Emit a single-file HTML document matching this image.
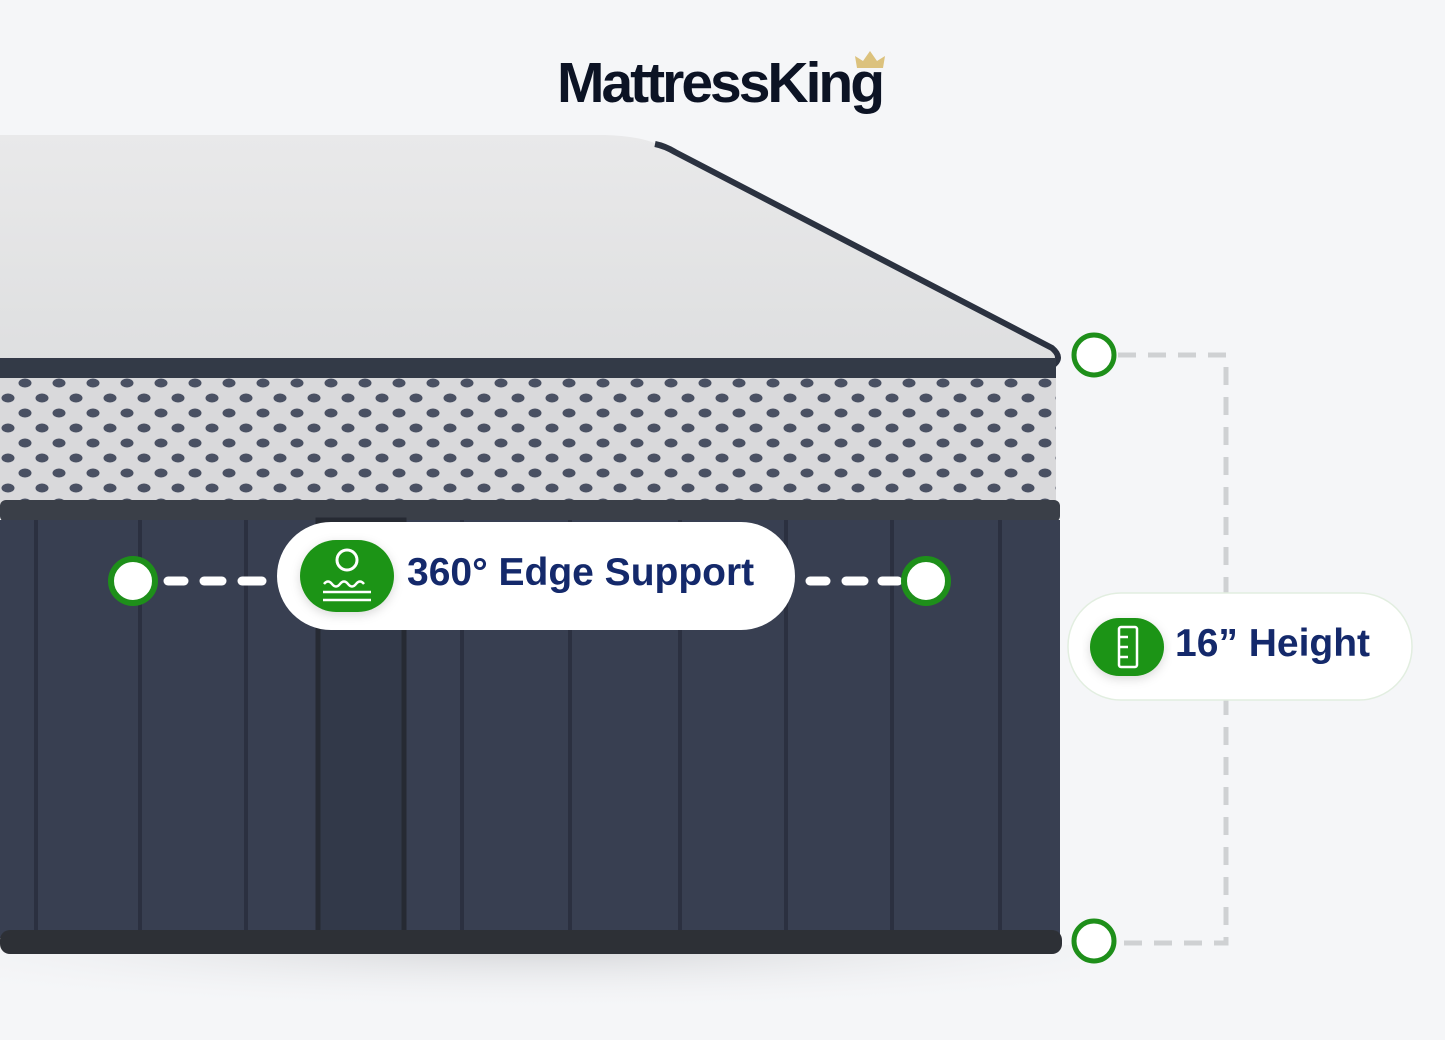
<!DOCTYPE html>
<html><head><meta charset="utf-8"><style>
html,body{margin:0;padding:0;background:#f5f6f8;}
body{width:1445px;height:1040px;position:relative;overflow:hidden;font-family:"Liberation Sans",sans-serif;}
.t{position:absolute;white-space:nowrap;}
</style></head><body>
<svg width="1445" height="1040" style="position:absolute;left:0;top:0">
<defs>
<linearGradient id="top" x1="0" y1="0" x2="0" y2="1"><stop offset="0" stop-color="#e9e9ea"/><stop offset="1" stop-color="#dedfe0"/></linearGradient>
<pattern id="mesh" width="34" height="30" patternUnits="userSpaceOnUse">
<rect width="34" height="30" fill="#d9d9db"/>
<ellipse cx="8" cy="8" rx="6.5" ry="4.5" fill="#4a5163"/>
<ellipse cx="25" cy="23" rx="6.5" ry="4.5" fill="#4a5163"/>
</pattern>
<radialGradient id="sh" cx="0.5" cy="0" r="0.7"><stop offset="0" stop-color="#c9cacd" stop-opacity="0.8"/><stop offset="1" stop-color="#f5f6f8" stop-opacity="0"/></radialGradient>
<filter id="ds" x="-10%" y="-20%" width="120%" height="150%"><feDropShadow dx="0" dy="3" stdDeviation="5" flood-color="#000" flood-opacity="0.15"/></filter>
</defs>
<rect x="0" y="945" width="1080" height="95" fill="url(#sh)"/>
<path d="M0 135 L605 135 Q645 136 665 148 L1050 350 Q1062 358 1052 364 L0 364 Z" fill="url(#top)"/>
<path d="M655 144 Q665 146 675 152 L1052 348 Q1064 358 1052 366" fill="none" stroke="#2b3240" stroke-width="6"/>
<rect x="0" y="358" width="1056" height="20" fill="#333a47"/>
<rect x="0" y="378" width="1056" height="128" fill="url(#mesh)"/>
<rect x="0" y="500" width="1060" height="22" rx="6" fill="#3a3f48"/>
<rect x="0" y="520" width="1060" height="418" fill="#383f51"/>
<g stroke="#2b3040" stroke-width="4">
<line x1="36" y1="520" x2="36" y2="935"/><line x1="140" y1="520" x2="140" y2="935"/>
<line x1="246" y1="520" x2="246" y2="935"/><line x1="462" y1="520" x2="462" y2="935"/>
<line x1="570" y1="520" x2="570" y2="935"/><line x1="680" y1="520" x2="680" y2="935"/>
<line x1="786" y1="520" x2="786" y2="935"/><line x1="892" y1="520" x2="892" y2="935"/>
<line x1="1000" y1="520" x2="1000" y2="935"/>
</g>
<rect x="318" y="520" width="86" height="418" fill="#323949" stroke="#262a33" stroke-width="5"/>
<rect x="0" y="930" width="1062" height="24" rx="10" fill="#2d3036"/>
<g stroke="#fff" stroke-width="9" stroke-linecap="round">
<line x1="168" y1="581" x2="184" y2="581"/><line x1="204" y1="581" x2="222" y2="581"/><line x1="242" y1="581" x2="262" y2="581"/>
<line x1="810" y1="581" x2="826" y2="581"/><line x1="846" y1="581" x2="864" y2="581"/><line x1="882" y1="581" x2="898" y2="581"/>
</g>
<circle cx="133" cy="581" r="22" fill="#fff" stroke="#1e8f1a" stroke-width="6"/>
<circle cx="926" cy="581" r="22" fill="#fff" stroke="#1e8f1a" stroke-width="6"/>
<path d="M1118 355 H1226 V943 H1118" fill="none" stroke="#cfd1d3" stroke-width="5" stroke-dasharray="18 12"/>
<circle cx="1094" cy="355" r="20" fill="#fff" stroke="#1e8f1a" stroke-width="5"/>
<circle cx="1094" cy="941" r="20" fill="#fff" stroke="#1e8f1a" stroke-width="5"/>
<rect x="277" y="522" width="518" height="108" rx="54" fill="#fff"/>
<rect x="300" y="540" width="94" height="72" rx="36" fill="#1f9415" filter="url(#ds)"/>
<circle cx="347" cy="560" r="10" fill="none" stroke="#fff" stroke-width="3"/>
<path d="M324 584 q4 -5 8 0 t8 0 t8 0 t8 0 t8 0" fill="none" stroke="#fff" stroke-width="2.5"/>
<line x1="323" y1="592" x2="371" y2="592" stroke="#fff" stroke-width="2.5"/>
<line x1="323" y1="600" x2="371" y2="600" stroke="#fff" stroke-width="2.5"/>
<rect x="1068" y="593" width="344" height="107" rx="53" fill="#fff" stroke="#e2eee0" stroke-width="1.5"/>
<rect x="1090" y="618" width="74" height="58" rx="29" fill="#1f9415" filter="url(#ds)"/>
<rect x="1119" y="627" width="18" height="40" rx="2" fill="none" stroke="#fff" stroke-width="2.5"/>
<g stroke="#fff" stroke-width="2.5"><line x1="1119" y1="637" x2="1128" y2="637"/><line x1="1119" y1="647" x2="1128" y2="647"/><line x1="1119" y1="657" x2="1128" y2="657"/></g>
<path d="M857 68 L855 56 L863 61 L870 51 L877 61 L885 56 L883 68 Z" fill="#dcc27d"/>
</svg>
<div class="t" style="left:557px;top:50px;font-size:57px;font-weight:bold;color:#0c1324;letter-spacing:-3px;">MattressKing</div>
<div class="t" style="left:407px;top:551px;font-size:39px;font-weight:bold;color:#14296b;">360° Edge Support</div>
<div class="t" style="left:1175px;top:622px;font-size:39px;font-weight:bold;color:#14296b;">16” Height</div>
</body></html>
